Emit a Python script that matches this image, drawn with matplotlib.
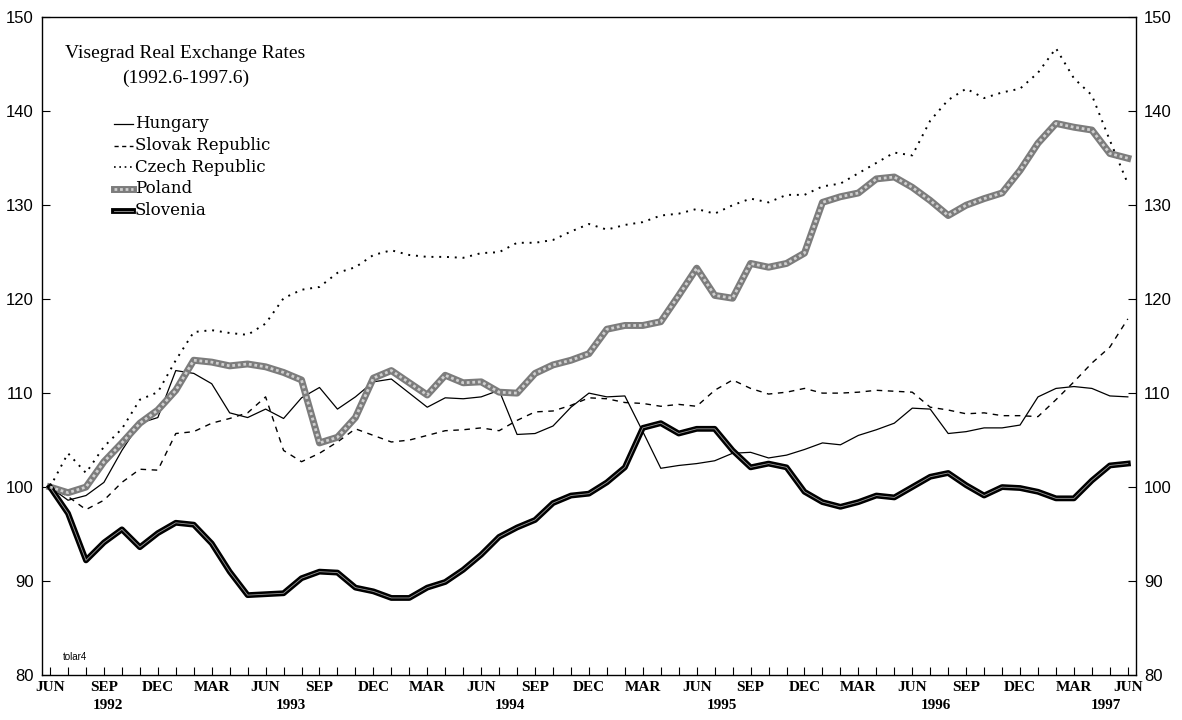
import matplotlib
matplotlib.use("Agg")
import matplotlib.pyplot as plt
import matplotlib.transforms as mtransforms
import numpy as np

# Monthly index values, JUN 1992 .. JUN 1997 (61 months)
hungary = [100.0, 98.6, 99.1, 100.5, 103.9, 106.8, 107.4, 112.4, 112.1, 111.0,
           107.9, 107.4, 108.3, 107.3, 109.5, 110.6, 108.3, 109.6, 111.2, 111.5,
           110.0, 108.5, 109.5, 109.4, 109.6, 110.3, 105.6, 105.7, 106.5, 108.5,
           110.0, 109.6, 109.7, 105.9, 102.0, 102.3, 102.5, 102.8, 103.6, 103.7,
           103.1, 103.4, 104.0, 104.7, 104.5, 105.5, 106.1, 106.8, 108.4, 108.3,
           105.7, 105.9, 106.3, 106.3, 106.6, 109.6, 110.5, 110.7, 110.5, 109.7,
           109.6]
slovak = [100.0, 99.0, 97.6, 98.6, 100.5, 101.9, 101.8, 105.7, 105.9, 106.8,
          107.3, 107.9, 109.6, 103.9, 102.7, 103.6, 104.8, 106.2, 105.5, 104.8,
          105.0, 105.5, 106.0, 106.1, 106.3, 106.0, 107.1, 108.0, 108.1, 108.7,
          109.5, 109.4, 109.0, 108.9, 108.6, 108.8, 108.6, 110.3, 111.4, 110.5,
          109.9, 110.1, 110.5, 110.0, 110.0, 110.1, 110.3, 110.2, 110.1, 108.5,
          108.2, 107.8, 107.9, 107.6, 107.6, 107.5, 109.3, 111.2, 113.2, 114.9,
          117.9]
czech = [100.0, 103.6, 101.5, 104.3, 106.2, 109.3, 110.1, 113.5, 116.5, 116.7,
         116.4, 116.2, 117.4, 120.1, 121.0, 121.3, 122.8, 123.4, 124.7, 125.2,
         124.7, 124.5, 124.5, 124.4, 124.9, 125.0, 126.0, 126.0, 126.3, 127.2,
         128.0, 127.4, 127.9, 128.2, 128.9, 129.1, 129.6, 129.1, 130.0, 130.7,
         130.3, 131.1, 131.1, 132.0, 132.3, 133.4, 134.5, 135.6, 135.3, 139.0,
         141.2, 142.4, 141.4, 142.0, 142.4, 144.1, 146.7, 143.5, 141.7, 136.9,
         132.3]
poland = [100.0, 99.4, 100.0, 102.7, 104.7, 106.8, 108.2, 110.3, 113.5, 113.3,
          112.9, 113.1, 112.8, 112.2, 111.4, 104.7, 105.3, 107.4, 111.6, 112.4,
          111.1, 109.8, 111.9, 111.1, 111.2, 110.1, 110.0, 112.1, 113.0, 113.5,
          114.2, 116.8, 117.2, 117.2, 117.6, 120.4, 123.3, 120.4, 120.1, 123.8,
          123.4, 123.8, 124.9, 130.3, 130.9, 131.3, 132.8, 133.0, 131.9, 130.5,
          128.9, 130.0, 130.7, 131.3, 133.7, 136.6, 138.7, 138.3, 138.0, 135.5,
          135.0]
slovenia = [100.0, 97.2, 92.2, 94.1, 95.5, 93.6, 95.1, 96.2, 96.0, 94.0,
            91.0, 88.5, 88.6, 88.7, 90.3, 91.0, 90.9, 89.3, 88.9, 88.2,
            88.2, 89.3, 89.9, 91.2, 92.8, 94.7, 95.7, 96.5, 98.3, 99.1,
            99.3, 100.5, 102.1, 106.3, 106.8, 105.7, 106.2, 106.2, 103.9, 102.1,
            102.5, 102.1, 99.5, 98.4, 97.9, 98.4, 99.1, 98.9, 100.0, 101.1,
            101.5, 100.2, 99.1, 100.0, 99.9, 99.5, 98.8, 98.8, 100.7, 102.3,
            102.5]

month_labels = ["JUN", "SEP", "DEC", "MAR"] * 5 + ["JUN"]
year_labels = ["1992", "1993", "1994", "1995", "1996", "1997"]
year_pos = [3.2, 13.4, 25.6, 37.4, 49.3, 58.8]
y_ticks = [80, 90, 100, 110, 120, 130, 140, 150]
legend_names = ["Hungary", "Slovak Republic", "Czech Republic", "Poland", "Slovenia"]

x = np.arange(len(hungary))

fig = plt.figure(figsize=(11.82, 7.2), dpi=100)
ax = fig.add_axes([0.0355, 0.0625, 0.9255, 0.9135])

serif = ["Liberation Serif", "DejaVu Serif"]
dserif = ["DejaVu Serif"]
sans = ["Liberation Sans", "DejaVu Sans"]

POL_BASE, POL_TOP = "#7c7c7c", "#cfcfcf"

ax.plot(x, hungary, color="black", lw=0.9, zorder=3)
ax.plot(x, slovak, color="black", lw=1.0, linestyle=(0, (4, 4)), zorder=3)
ax.plot(x, czech, color="black", lw=1.4, linestyle=(0, (1, 3)), zorder=3)
ax.plot(x, poland, color=POL_BASE, lw=5.0, solid_joinstyle="round", zorder=4)
ax.plot(x, poland, color=POL_TOP, lw=2.0, linestyle=(0, (1.0, 1.0)), zorder=5)
ax.plot(x, slovenia, color="black", lw=4.2, solid_joinstyle="round", zorder=4)
ax.plot(x, slovenia, color="#9a9a9a", lw=0.6, zorder=5)

ax.set_xlim(-0.45, 60.45)
ax.set_ylim(80, 150)

ax.set_xticks(x[::3])
ax.set_xticklabels(month_labels, fontfamily=serif, fontweight="bold", fontsize=11)
ax.set_xticks(x, minor=True)
ax.tick_params(axis="x", which="both", direction="in", length=6, width=0.8, pad=4)

ax.set_yticks(y_ticks)
ax.set_yticklabels([str(v) for v in y_ticks], fontfamily=sans, fontsize=12)
ax.tick_params(axis="y", direction="in", length=6, width=0.8, left=True, right=True,
               labelleft=True, labelright=True, pad=6)
for s in ax.spines.values():
    s.set_linewidth(1.0)

trans = mtransforms.blended_transform_factory(ax.transData, ax.transAxes)
for yl, xp in zip(year_labels, year_pos):
    ax.text(xp, -0.036, yl, transform=trans, ha="center", va="top",
            fontfamily=serif, fontweight="bold", fontsize=11)

ax.text(0.131, 0.945, "Visegrad Real Exchange Rates", transform=ax.transAxes,
        ha="center", va="center", fontfamily=serif, fontsize=14)
ax.text(0.131, 0.907, "(1992.6-1997.6)", transform=ax.transAxes,
        ha="center", va="center", fontfamily=serif, fontsize=14)

# legend
lx0, lx1, ltx = 0.066, 0.083, 0.085
ly = [0.838, 0.805, 0.772, 0.739, 0.706]
styles = [
    dict(color="black", lw=0.9),
    dict(color="black", lw=1.0, linestyle=(0, (3, 2.5))),
    dict(color="black", lw=1.2, linestyle=(0, (1, 2.2))),
]
for i, name in enumerate(legend_names):
    yy = ly[i]
    if i < 3:
        ax.plot([lx0, lx1], [yy, yy], transform=ax.transAxes, **styles[i])
    elif i == 3:
        ax.plot([lx0, lx1], [yy, yy], transform=ax.transAxes, color=POL_BASE, lw=5.0)
        ax.plot([lx0, lx1], [yy, yy], transform=ax.transAxes, color=POL_TOP, lw=2.0,
                linestyle=(0, (1.0, 1.0)))
    else:
        ax.plot([lx0, lx1], [yy, yy], transform=ax.transAxes, color="black", lw=4.2)
        ax.plot([lx0, lx1], [yy, yy], transform=ax.transAxes, color="#9a9a9a", lw=0.6)
    ax.text(ltx, yy, name, transform=ax.transAxes, ha="left", va="center",
            fontfamily=dserif, fontsize=12)

ax.text(0.019, 0.027, "tolar4", transform=ax.transAxes, ha="left", va="center",
        fontfamily=sans, fontsize=7)

fig.savefig("out.png", dpi=100)
